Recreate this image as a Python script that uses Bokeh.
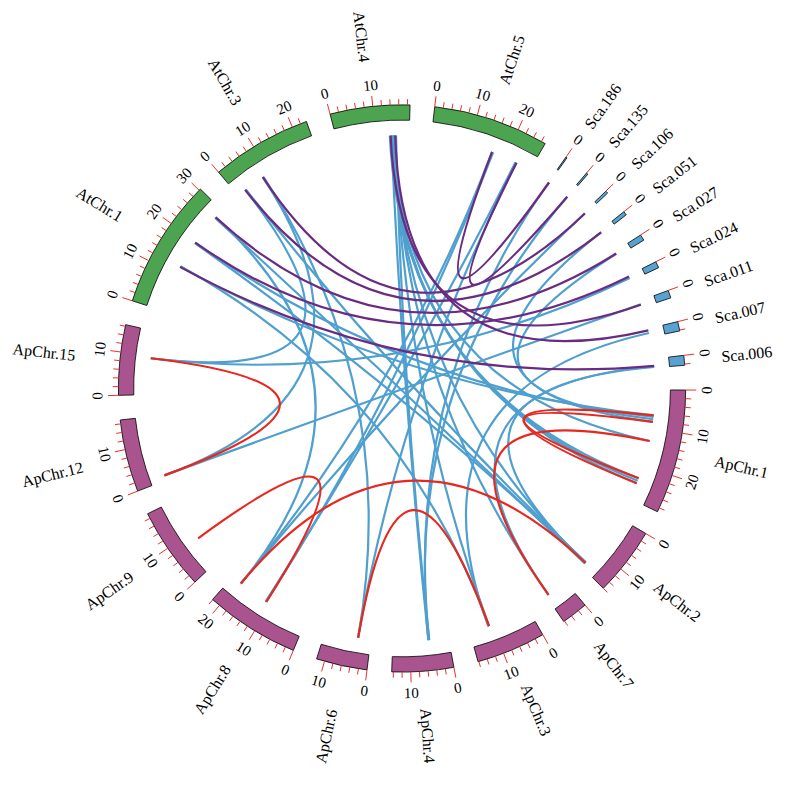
import math
from bokeh.plotting import figure
from bokeh.models import ColumnDataSource, Range1d
from bokeh.core.properties import value
from bokeh.embed import file_html
from bokeh.resources import INLINE

# ---------------- data ----------------
chrom_names = ["AtChr.1", "AtChr.3", "AtChr.4", "AtChr.5",
               "Sca.186", "Sca.135", "Sca.106", "Sca.051", "Sca.027",
               "Sca.024", "Sca.011", "Sca.007", "Sca.006",
               "ApChr.1", "ApChr.2", "ApChr.7", "ApChr.3", "ApChr.4",
               "ApChr.6", "ApChr.8", "ApChr.9", "ApChr.12", "ApChr.15"]
chrom_lengths = [30.4, 23.5, 18.6, 27.0,
                 0.3, 0.4, 0.6, 0.9, 1.4, 1.5, 1.8, 2.2, 2.3,
                 29.0, 16.0, 6.2, 16.2, 14.4, 11.9, 22.1, 19.2, 16.9, 16.4]
chrom_groups = ["At"] * 4 + ["Sca"] * 9 + ["Ap"] * 10

# Ap-Ap links (red)
red_chr_a = ["ApChr.1", "ApChr.1", "ApChr.1", "ApChr.9", "ApChr.8", "ApChr.15", "ApChr.6"]
red_pos_a = [6.6, 8.3, 13.3, 7.7, 19.4, 9.4, 3.3]
red_chr_b = ["ApChr.1", "ApChr.1", "ApChr.7", "ApChr.8", "ApChr.2", "ApChr.12", "ApChr.3"]
red_pos_b = [24.7, 23.3, 5.5, 11.3, 14.6, 1.3, 11.0]

# At-Sca links (purple)
purple_chr_a = ["AtChr.5", "AtChr.5", "AtChr.3", "AtChr.3", "AtChr.1",
                "AtChr.1", "AtChr.4", "AtChr.4", "AtChr.1"]
purple_pos_a = [16.2, 23.1, 7.9, 2.3, 28.0, 19.6, 13.8, 15.0, 12.2]
purple_chr_b = ["Sca.186", "Sca.135", "Sca.106", "Sca.051", "Sca.027",
                "Sca.024", "Sca.011", "Sca.007", "Sca.006"]
purple_pos_b = [0.25, 0.2, 0.4, 0.5, 0.6, 0.3, 1.0, 0.4, 1.8]

# links involving Ap and At / scaffolds (blue)
blue_chr_a = ["AtChr.4", "AtChr.4", "AtChr.4", "AtChr.4", "AtChr.4", "AtChr.4", "AtChr.4",
              "AtChr.4", "AtChr.4",
              "AtChr.5", "AtChr.5", "AtChr.5", "AtChr.5",
              "AtChr.3", "AtChr.3", "AtChr.3", "AtChr.3",
              "AtChr.1", "AtChr.1", "AtChr.1", "AtChr.1", "AtChr.1", "AtChr.1",
              "Sca.186", "Sca.135", "Sca.106", "Sca.051", "Sca.027", "Sca.024",
              "Sca.011", "Sca.007", "Sca.006", "Sca.006"]
blue_pos_a = [13.6, 13.9, 14.2, 14.5, 14.8, 15.0, 15.2, 14.0, 14.6,
              16.2, 16.5, 23.1, 22.8,
              7.9, 8.1, 2.3, 2.5,
              28.0, 27.8, 19.6, 19.4, 12.2, 12.4,
              0.15, 0.2, 0.3, 0.45, 0.7, 0.75, 0.9, 1.1, 1.9, 2.1]
blue_chr_b = ["ApChr.1", "ApChr.1", "ApChr.1", "ApChr.2", "ApChr.7", "ApChr.3", "ApChr.4",
              "ApChr.4", "ApChr.1",
              "ApChr.8", "ApChr.8", "ApChr.6", "ApChr.8",
              "ApChr.12", "ApChr.6", "ApChr.15", "ApChr.2",
              "ApChr.8", "ApChr.2", "ApChr.1", "ApChr.2", "ApChr.1", "ApChr.3",
              "ApChr.4", "ApChr.4", "ApChr.8", "ApChr.1", "ApChr.1", "ApChr.15",
              "ApChr.12", "ApChr.3", "ApChr.7", "ApChr.2"]
blue_pos_b = [23.3, 24.0, 24.7, 14.6, 5.5, 11.0, 5.0, 5.2, 13.3,
              19.4, 11.3, 3.3, 11.5,
              1.3, 3.3, 9.4, 14.4,
              19.4, 14.8, 7.0, 14.6, 6.6, 11.0,
              5.0, 5.2, 19.4, 8.3, 7.6, 9.4, 1.3, 11.2, 5.5, 14.6]

# ---------------- styling / geometry ----------------
W, H = 784, 774
K = 0.955                      # pixels per layout unit (so that every label fits)
CX, CY = 414.0, -395.0
R_IN, R_OUT, R_LINK = 281.0, 297.0, 265.0
GAP = 5.0
START = 288.0
GROUP_COLOR = {"At": "#4ca450", "Sca": "#58a2d2", "Ap": "#a9538f"}
TICK_COLOR = "#e8322a"
FONT = value("Liberation Serif")

scale = (360.0 - GAP * len(chrom_names)) / sum(chrom_lengths)
starts = {}
acc = START
for n, L in zip(chrom_names, chrom_lengths):
    starts[n] = acc
    acc += L * scale + GAP


def theta(chrom, pos):
    return starts[chrom] + pos * scale


def pt(th, r):
    a = math.radians(th)
    return CX + r * math.sin(a), CY + r * math.cos(a)


xc, yc = 404.0, -394.0
hw, hh = (W / 2.0) / K, (H / 2.0) / K
p = figure(width=W, height=H, x_range=Range1d(xc - hw, xc + hw), y_range=Range1d(yc - hh, yc + hh),
           output_backend="svg", toolbar_location=None, min_border=0,
           x_axis_location=None, y_axis_location=None, outline_line_color=None,
           background_fill_color="white", border_fill_color="white")
p.xgrid.visible = False
p.ygrid.visible = False

# ---------------- segments ----------------
seg = dict(s=[], e=[], c=[])
for n, L, g in zip(chrom_names, chrom_lengths, chrom_groups):
    t0 = starts[n]
    t1 = t0 + L * scale
    seg["s"].append(math.radians(90 - t1))
    seg["e"].append(math.radians(90 - t0))
    seg["c"].append(GROUP_COLOR[g])
p.annular_wedge(x=CX, y=CY, inner_radius=R_IN, outer_radius=R_OUT,
                start_angle="s", end_angle="e", direction="anticlock",
                fill_color="c", line_color="black", line_width=0.8,
                source=ColumnDataSource(seg))

# ---------------- ticks ----------------
tk = dict(x0=[], y0=[], x1=[], y1=[])
tl = dict(x=[], y=[], t=[], a=[])
for n, L, g in zip(chrom_names, chrom_lengths, chrom_groups):
    pos = 0
    while pos <= L + 1e-9:
        th = theta(n, pos)
        major = (pos % 10 == 0)
        x0, y0 = pt(th, R_OUT)
        x1, y1 = pt(th, R_OUT + (11 if major else 6))
        tk["x0"].append(x0); tk["y0"].append(y0); tk["x1"].append(x1); tk["y1"].append(y1)
        if major:
            lx, ly = pt(th, 319)
            tm = th % 360
            ang = -math.radians(th)
            if 90 < tm < 270:
                ang += math.pi
            tl["x"].append(lx); tl["y"].append(ly); tl["t"].append(str(pos)); tl["a"].append(ang)
        pos += 2
p.segment(x0="x0", y0="y0", x1="x1", y1="y1", line_color=TICK_COLOR, line_width=1,
          source=ColumnDataSource(tk))
p.text(x="x", y="y", text="t", angle="a", text_align="center", text_baseline="middle",
       text_font=FONT, text_font_size="15px", text_color="black",
       source=ColumnDataSource(tl))

# ---------------- chromosome labels ----------------
lab_out = dict(x=[], y=[], t=[], a=[])
lab_in = dict(x=[], y=[], t=[], a=[])
for n, L in zip(chrom_names, chrom_lengths):
    tm = (starts[n] + L * scale / 2.0)
    tmod = tm % 360
    if tmod < 180:
        x, y = pt(tm, 336)
        lab_out["x"].append(x); lab_out["y"].append(y); lab_out["t"].append(n)
        lab_out["a"].append(math.radians(90 - tm))
    else:
        x, y = pt(tm, 344)
        lab_in["x"].append(x); lab_in["y"].append(y); lab_in["t"].append(n)
        lab_in["a"].append(math.radians(270 - tm))
p.text(x="x", y="y", text="t", angle="a", text_align="left", text_baseline="middle",
       text_font=FONT, text_font_size="16px", text_color="black",
       source=ColumnDataSource(lab_out))
p.text(x="x", y="y", text="t", angle="a", text_align="right", text_baseline="middle",
       text_font=FONT, text_font_size="16px", text_color="black",
       source=ColumnDataSource(lab_in))


# ---------------- links ----------------
def link_source(ca, pa, cb, pb):
    d = dict(x0=[], y0=[], x1=[], y1=[], cx=[], cy=[])
    for a1, b1, a2, b2 in zip(ca, pa, cb, pb):
        x0, y0 = pt(theta(a1, b1), R_LINK)
        x1, y1 = pt(theta(a2, b2), R_LINK)
        d["x0"].append(x0); d["y0"].append(y0); d["x1"].append(x1); d["y1"].append(y1)
        d["cx"].append(CX); d["cy"].append(CY)
    return ColumnDataSource(d)


p.quadratic(x0="x0", y0="y0", x1="x1", y1="y1", cx="cx", cy="cy",
            line_color="#4f9fcf", line_width=2.2,
            source=link_source(blue_chr_a, blue_pos_a, blue_chr_b, blue_pos_b))
p.quadratic(x0="x0", y0="y0", x1="x1", y1="y1", cx="cx", cy="cy",
            line_color="#6a2b80", line_width=2.2,
            source=link_source(purple_chr_a, purple_pos_a, purple_chr_b, purple_pos_b))
p.quadratic(x0="x0", y0="y0", x1="x1", y1="y1", cx="cx", cy="cy",
            line_color="#e8281e", line_width=2.2,
            source=link_source(red_chr_a, red_pos_a, red_chr_b, red_pos_b))

open("out.html", "w").write(file_html(p, INLINE))
